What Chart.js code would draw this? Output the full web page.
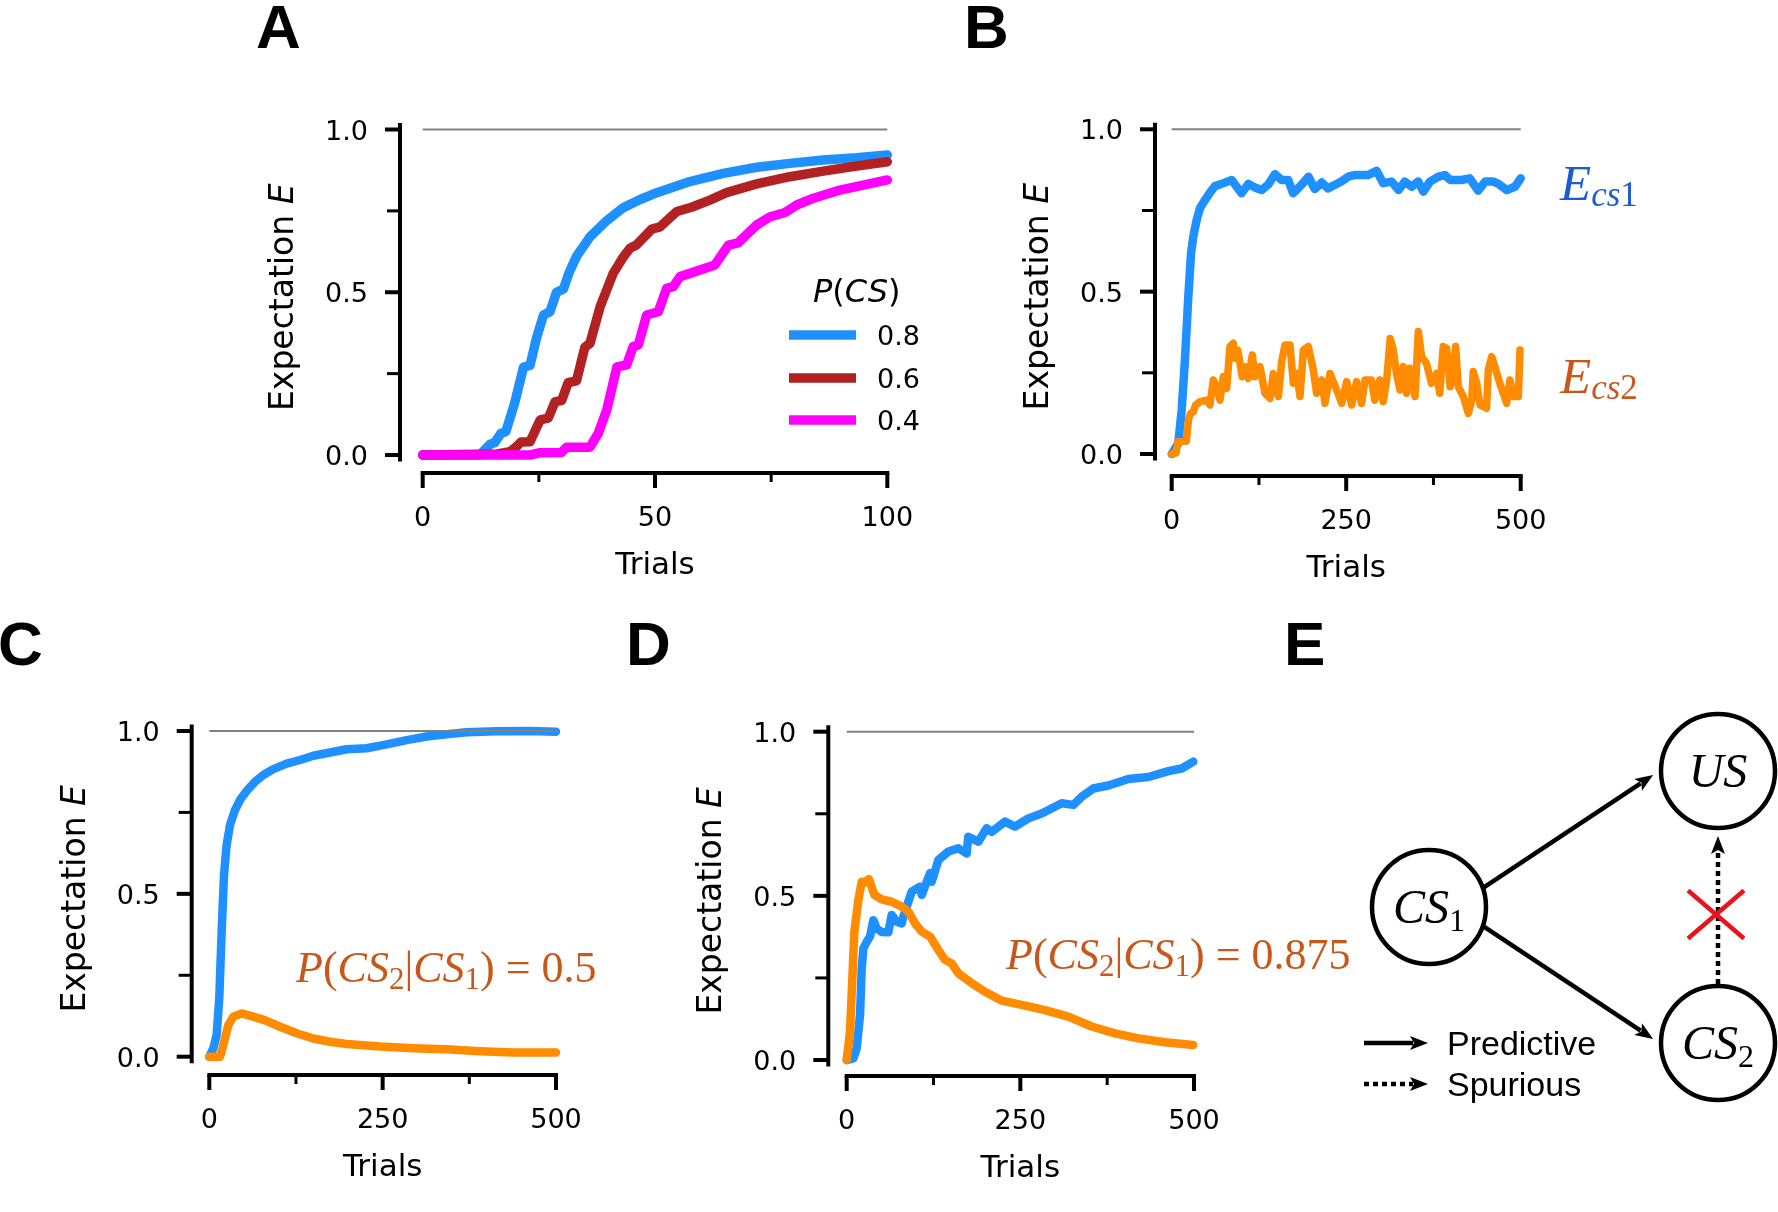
<!DOCTYPE html>
<html>
<head>
<meta charset="utf-8">
<script src="https://cdn.jsdelivr.net/npm/chart.js@4.4.1/dist/chart.umd.min.js"></script>
<style>
  html, body { margin: 0; padding: 0; background: #fff; }
  #page { position: relative; width: 1778px; height: 1212px; background: #fff; }
  #page canvas { position: absolute; left: 0; top: 0; }
</style>
</head>
<body>
<div id="page">
  <canvas id="panelA" width="1778" height="1212"></canvas>
  <canvas id="panelB" width="1778" height="1212"></canvas>
  <canvas id="panelC" width="1778" height="1212"></canvas>
  <canvas id="panelD" width="1778" height="1212"></canvas>
  <canvas id="panelE" width="1778" height="1212"></canvas>
</div>
<script>
// ---- tick values / labels ----
const yTickValues = [0, 0.5, 1.0];
const yTickLabels = ['0.0', '0.5', '1.0'];
const yMinorValues = [0.25, 0.75];
const xTicksA = [0, 50, 100];
const xMinorA = [25, 75];
const xTicksLong = [0, 250, 500];
const xMinorLong = [125, 375];

// ---- panel A: learning curves for P(CS) = 0.8 / 0.6 / 0.4, [trial, E] ----
const legendLabelsA = ['0.8', '0.6', '0.4'];
const curveA08 = [[0,0],[12.3,0],[14.5,0.033],[15.5,0.038],[16.8,0.066],[17.9,0.072],[19.8,0.16],[21.7,0.27],[23.1,0.275],
  [24.5,0.36],[26,0.43],[27.4,0.44],[28.8,0.5],[30.3,0.51],[31.5,0.56],[33.1,0.61],[36,0.67],[39.6,0.72],[43.2,0.76],
  [46.8,0.785],[50.4,0.806],[57.5,0.84],[64.7,0.865],[71.9,0.884],[79,0.896],[86.2,0.906],[93.4,0.913],[100,0.922]];
const curveA06 = [[0,0],[16,0.003],[18.8,0.01],[20.2,0.026],[21.2,0.04],[23.1,0.041],[25.3,0.108],[27,0.113],[28.5,0.164],
  [29.9,0.167],[31.3,0.222],[33.1,0.228],[34.9,0.331],[36,0.343],[38.2,0.456],[41,0.558],[43.2,0.609],[44.6,0.635],
  [46,0.645],[49.3,0.694],[51.1,0.701],[54.7,0.748],[58,0.762],[61.8,0.783],[65.4,0.806],[71.9,0.833],[79,0.855],
  [86.2,0.872],[93.4,0.888],[100,0.901]];
const curveA04 = [[0,0],[23.1,0],[25.3,0.007],[29.9,0.008],[31,0.024],[36,0.024],[37.8,0.067],[39.6,0.138],[41.8,0.271],
  [43.9,0.277],[45.3,0.333],[46.4,0.338],[48.2,0.43],[50.7,0.44],[52.5,0.512],[53.9,0.517],[55.4,0.548],[62.9,0.584],
  [65.8,0.645],[67.9,0.652],[71.9,0.707],[74.8,0.732],[78,0.745],[80.5,0.768],[84.1,0.789],[89.8,0.814],[100,0.845]];

// ---- panel B: E_cs1 / E_cs2 ----
const curveBcs1 = [[0,0],[9.5,0.033],[14.3,0.136],[19,0.29],[23.8,0.485],[27.7,0.618],[31,0.67],[35.7,0.72],[40.5,0.757],
  [47.7,0.782],[54.8,0.805],[62,0.825],[71.5,0.832],[86,0.844],[100,0.803],[110,0.832],[119,0.821],[129,0.813],[138,0.829],
  [148,0.862],[157.5,0.844],[167,0.844],[174,0.803],[186,0.829],[196,0.854],[205,0.816],[215,0.836],[224,0.818],[234,0.829],
  [243,0.839],[253,0.854],[262,0.859],[272,0.859],[281,0.859],[293.5,0.872],[303,0.834],[315,0.839],[325,0.813],[334,0.839],
  [344,0.823],[353,0.839],[360.5,0.808],[370,0.839],[382,0.854],[391.5,0.859],[399,0.844],[406,0.844],[415,0.844],
  [427,0.849],[439,0.811],[449,0.839],[461,0.839],[468,0.832],[480,0.813],[491.8,0.823],[500,0.849]];
const curveBcs2 = [[0,0],[6,0.003],[9,0.038],[21,0.04],[24,0.105],[27,0.125],[31,0.13],[34,0.15],[40.5,0.161],[50,0.166],
  [54.8,0.151],[59.6,0.228],[64.2,0.207],[69.2,0.166],[73.9,0.238],[78.7,0.202],[83.5,0.331],[88.3,0.341],[90.6,0.295],
  [94.5,0.32],[97.8,0.279],[101,0.238],[105,0.269],[109.8,0.233],[115.5,0.305],[119.3,0.238],[126.5,0.269],[133.6,0.187],
  [140.8,0.171],[145.6,0.248],[152.8,0.177],[157.5,0.284],[162.3,0.336],[169.4,0.336],[174.3,0.218],[179,0.248],
  [183.8,0.177],[188.6,0.32],[195.7,0.331],[202.9,0.259],[207.6,0.187],[214.8,0.228],[219.6,0.156],[226.7,0.248],
  [236.3,0.197],[243.5,0.156],[250.7,0.223],[257.8,0.151],[265,0.223],[272,0.156],[277,0.228],[286,0.228],[291,0.166],
  [298,0.228],[303,0.161],[308,0.228],[313,0.356],[317.5,0.32],[322,0.248],[327,0.197],[332,0.269],[336.6,0.187],
  [341.4,0.264],[348.6,0.177],[353.3,0.377],[358,0.3],[365,0.279],[372.2,0.218],[379.6,0.248],[384,0.187],[389,0.331],
  [394,0.325],[398.8,0.207],[403.4,0.248],[406.8,0.331],[410.6,0.207],[417.8,0.177],[425,0.125],[429.8,0.166],[432,0.254],
  [437,0.218],[441.7,0.151],[451,0.141],[453.6,0.259],[458.4,0.3],[463,0.269],[470,0.218],[479.9,0.156],[484.6,0.228],
  [489.5,0.177],[496.6,0.177],[499,0.32]];

// ---- panel C: P(CS2|CS1) = 0.5 ----
const curveCcs1 = [[0,0],[5.8,0.026],[10.6,0.067],[14.4,0.18],[17.8,0.384],[21.2,0.558],[25,0.65],[29.8,0.711],[37,0.757],
  [44.2,0.788],[53.8,0.816],[65.9,0.844],[77.9,0.865],[92.3,0.883],[111.5,0.9],[130.8,0.911],[150,0.924],[174,0.934],
  [198,0.944],[227,0.947],[255.8,0.959],[284.6,0.972],[313.5,0.983],[342.3,0.99],[371,0.996],[414.4,0.999],[462.5,1.0],
  [500,0.998]];
const curveCcs2 = [[0,0],[15.4,0],[20.2,0.036],[27.4,0.097],[34.6,0.123],[46.6,0.133],[63.5,0.123],[82.7,0.11],[102,0.092],
  [126,0.072],[150,0.056],[174,0.046],[198,0.039],[246,0.031],[294,0.026],[342,0.023],[390,0.017],[438.5,0.013],[500,0.013]];

// ---- panel D: P(CS2|CS1) = 0.875 ----
const curveDcs1 = [[0,0],[9.6,0.005],[14.4,0.036],[19.2,0.137],[21.6,0.279],[24,0.34],[28.8,0.36],[33.6,0.376],[38.4,0.426],
  [43.2,0.4],[50.4,0.39],[60,0.389],[64.8,0.442],[72,0.421],[79.2,0.416],[81.6,0.437],[93.6,0.513],[105.6,0.528],[108,0.503],
  [120,0.569],[122.4,0.543],[132,0.609],[146.4,0.635],[160.8,0.645],[172.7,0.629],[175,0.68],[189.5,0.665],[201.5,0.706],
  [208.7,0.695],[227.9,0.726],[242.3,0.711],[261.5,0.736],[280.7,0.751],[309.5,0.782],[326.3,0.777],[338.3,0.802],
  [355,0.827],[376.7,0.836],[405.5,0.856],[434.3,0.862],[463,0.88],[482.2,0.888],[499,0.909]];
const curveDcs2 = [[0,0],[4.8,0.086],[11,0.391],[16.8,0.487],[21.6,0.543],[26.4,0.541],[32.1,0.551],[39.8,0.503],[50.4,0.489],
  [64.8,0.482],[79.2,0.467],[88.8,0.452],[98.4,0.416],[108,0.391],[120,0.376],[132,0.335],[141.6,0.305],[151.2,0.294],
  [160.8,0.264],[180,0.234],[199,0.208],[223,0.181],[252,0.168],[285.5,0.152],[319,0.132],[352.7,0.102],[386.3,0.081],
  [420,0.066],[458,0.054],[499,0.046]];

// ---- panel E: diagram nodes and edges ----
const nodeNames = ['CS1', 'US', 'CS2'];
const nodeX = [0, 1, 1];
const nodeY = [0, 1, -1];
const edgeFrom = ['CS1', 'CS1', 'CS2'];
const edgeTo = ['US', 'CS2', 'US'];
const edgeKind = ['Predictive', 'Predictive', 'Spurious'];
const edgeLegend = ['Predictive', 'Spurious'];

// colours
const BLUE = '#1E90FF', BROWN = '#B22222', MAGENTA = '#FF00FF', ORANGE = '#FF8C00', GREY = '#808080';
const TXT_BLUE = '#1c5cd0', TXT_ORANGE = '#c8581a';

const SANS = '"DejaVu Sans"';
const SERIF = '"Liberation Serif"';

function toXY(pairs) {
  return pairs.map(p => ({ x: p[0], y: p[1] }));
}

function drawRuns(ctx, runs, x, y, align) {
  let w = 0;
  runs.forEach(r => { ctx.font = r.font; r.w = ctx.measureText(r.t).width; w += r.w; });
  let cx = align === 'center' ? x - w / 2 : (align === 'right' ? x - w : x);
  ctx.textAlign = 'left';
  ctx.textBaseline = 'alphabetic';
  runs.forEach(r => {
    ctx.font = r.font;
    if (r.color) ctx.fillStyle = r.color;
    ctx.fillText(r.t, cx, y + (r.dy || 0));
    cx += r.w;
  });
}

function seg(ctx, x0, y0, x1, y1) {
  ctx.beginPath(); ctx.moveTo(x0, y0); ctx.lineTo(x1, y1); ctx.stroke();
}

// math-like text "P(CS2|CS1) = v"
function condProbRuns(value, size, color) {
  const it = 'italic ' + size + 'px ' + SERIF, rm = size + 'px ' + SERIF, sub = Math.round(size * 0.7) + 'px ' + SERIF;
  const d = Math.round(size * 0.17);
  return [
    { t: 'P', font: it, color }, { t: '(', font: rm }, { t: 'CS', font: it }, { t: '2', font: sub, dy: d },
    { t: '|', font: rm }, { t: 'CS', font: it }, { t: '1', font: sub, dy: d }, { t: ')', font: rm },
    { t: ' = ' + value, font: rm }
  ];
}

function eRuns(idx, color) {
  return [
    { t: 'E', font: 'italic 51px ' + SERIF, color },
    { t: 'cs', font: 'italic 35px ' + SERIF, dy: 6 },
    { t: idx, font: '35px ' + SERIF, dy: 6 }
  ];
}

// draws matplotlib-like offset spines, ticks and labels from the chart scales
function axesPlugin(p) {
  return {
    id: 'axes' + p.letter,
    afterDraw(chart) {
      const ctx = chart.ctx, xs = chart.scales.x, ys = chart.scales.y;
      ctx.save();
      ctx.strokeStyle = '#000';
      ctx.fillStyle = '#000';
      ctx.lineCap = 'butt';

      // spines
      ctx.lineWidth = 4;
      seg(ctx, p.spineX, ys.getPixelForValue(ys.max), p.spineX, ys.getPixelForValue(ys.min));
      const xa = xs.getPixelForValue(p.xTicks[0]);
      const xb = xs.getPixelForValue(p.xTicks[p.xTicks.length - 1]);
      seg(ctx, xa - 2, p.spineY, xb + 2, p.spineY);

      // y ticks
      yTickValues.forEach((v, i) => {
        const py = ys.getPixelForValue(v);
        ctx.lineWidth = 4;
        seg(ctx, p.spineX - 15, py, p.spineX, py);
        ctx.font = '27px ' + SANS;
        ctx.textAlign = 'right';
        ctx.textBaseline = 'alphabetic';
        ctx.fillText(yTickLabels[i], p.spineX - 32, py + 10);
      });
      yMinorValues.forEach(v => {
        const py = ys.getPixelForValue(v);
        ctx.lineWidth = 3;
        seg(ctx, p.spineX - 13, py, p.spineX, py);
      });

      // x ticks
      p.xTicks.forEach(v => {
        const px = xs.getPixelForValue(v);
        ctx.lineWidth = 4;
        seg(ctx, px, p.spineY, px, p.spineY + 15);
        ctx.font = '27px ' + SANS;
        ctx.textAlign = 'center';
        ctx.textBaseline = 'alphabetic';
        ctx.fillText(String(v), px, p.spineY + 53);
      });
      p.xMinor.forEach(v => {
        const px = xs.getPixelForValue(v);
        ctx.lineWidth = 3;
        seg(ctx, px, p.spineY, px, p.spineY + 9);
      });

      // axis labels
      ctx.font = '31px ' + SANS;
      ctx.textAlign = 'center';
      ctx.fillText('Trials', (xa + xb) / 2, p.spineY + 101);

      ctx.save();
      ctx.translate(p.spineX - 107, (ys.top + ys.bottom) / 2 + 5);
      ctx.rotate(-Math.PI / 2);
      drawRuns(ctx, [
        { t: 'Expectation ', font: '33px ' + SANS },
        { t: 'E', font: 'italic 33px ' + SANS }
      ], 0, 0, 'center');
      ctx.restore();

      // panel letter
      ctx.fillStyle = '#000';
      ctx.font = 'bold 62px "Liberation Sans"';
      ctx.textAlign = 'left';
      ctx.fillText(p.letter, p.letterX, p.letterY);

      if (p.extra) p.extra(chart, ctx);
      ctx.restore();
    }
  };
}

function makePanel(p) {
  const span = p.y0px - p.y1px;
  const top = p.y1px - 0.02 * span;
  const bottom = p.y0px + 0.02 * span;
  const xMax = p.xTicks[p.xTicks.length - 1];
  const datasets = p.series.map(s => ({
    data: toXY(s.data),
    borderColor: s.color,
    borderWidth: s.width,
    pointRadius: 0,
    tension: 0,
    fill: false,
    clip: false,
    order: s.order,
    borderCapStyle: 'round',
    borderJoinStyle: 'round'
  }));
  // horizontal reference line at E = 1
  datasets.push({
    data: [{ x: 0, y: 1 }, { x: xMax, y: 1 }],
    borderColor: GREY, borderWidth: 2, pointRadius: 0, clip: false, order: 0
  });
  return new Chart(document.getElementById(p.id), {
    type: 'line',
    data: { datasets },
    options: {
      responsive: false,
      animation: false,
      devicePixelRatio: 1,
      events: [],
      layout: { autoPadding: false, padding: { left: p.x0px, right: 1778 - p.x1px, top: top, bottom: 1212 - bottom } },
      plugins: { legend: { display: false }, tooltip: { enabled: false } },
      scales: {
        x: { type: 'linear', display: false, min: 0, max: xMax },
        y: { type: 'linear', display: false, min: -0.02, max: 1.02 }
      }
    },
    plugins: [axesPlugin(p)]
  });
}

// Panel A
makePanel({
  id: 'panelA', letter: 'A', letterX: 256, letterY: 48,
  x0px: 422.7, x1px: 887.3, y1px: 129.5, y0px: 455,
  spineX: 400, spineY: 473,
  xTicks: xTicksA, xMinor: xMinorA,
  series: [
    { data: curveA08, color: BLUE, width: 9.5, order: 3 },
    { data: curveA06, color: BROWN, width: 9.5, order: 2 },
    { data: curveA04, color: MAGENTA, width: 9.5, order: 1 }
  ],
  extra(chart, ctx) {
    drawRuns(ctx, [
      { t: 'P', font: 'italic 32px ' + SANS, color: '#000' },
      { t: '(', font: '32px ' + SANS },
      { t: 'CS', font: 'italic 32px ' + SANS },
      { t: ')', font: '32px ' + SANS }
    ], 813, 302, 'left');
    const rows = [335, 378, 420];
    legendLabelsA.forEach((lab, i) => {
      ctx.strokeStyle = chart.data.datasets[i].borderColor;
      ctx.lineWidth = 9.5;
      seg(ctx, 789, rows[i], 856, rows[i]);
      ctx.fillStyle = '#000';
      ctx.font = '27px ' + SANS;
      ctx.textAlign = 'left';
      ctx.fillText(lab, 877, rows[i] + 10);
    });
  }
});

// Panel B
makePanel({
  id: 'panelB', letter: 'B', letterX: 964, letterY: 48,
  x0px: 1171.7, x1px: 1520.7, y1px: 129.3, y0px: 454,
  spineX: 1155, spineY: 476,
  xTicks: xTicksLong, xMinor: xMinorLong,
  series: [
    { data: curveBcs1, color: BLUE, width: 8.5, order: 2 },
    { data: curveBcs2, color: ORANGE, width: 7.5, order: 1 }
  ],
  extra(chart, ctx) {
    drawRuns(ctx, eRuns('1', TXT_BLUE), 1560, 200, 'left');
    drawRuns(ctx, eRuns('2', TXT_ORANGE), 1560, 393, 'left');
  }
});

// Panel C
makePanel({
  id: 'panelC', letter: 'C', letterX: -2, letterY: 665,
  x0px: 209.3, x1px: 556, y1px: 731, y0px: 1056.7,
  spineX: 191.7, spineY: 1075,
  xTicks: xTicksLong, xMinor: xMinorLong,
  series: [
    { data: curveCcs1, color: BLUE, width: 8.5, order: 2 },
    { data: curveCcs2, color: ORANGE, width: 8.5, order: 1 }
  ],
  extra(chart, ctx) {
    drawRuns(ctx, condProbRuns('0.5', 44, TXT_ORANGE), 296, 982, 'left');
  }
});

// Panel D
makePanel({
  id: 'panelD', letter: 'D', letterX: 626, letterY: 665,
  x0px: 846.7, x1px: 1194, y1px: 731.7, y0px: 1060,
  spineX: 828.3, spineY: 1076,
  xTicks: xTicksLong, xMinor: xMinorLong,
  series: [
    { data: curveDcs1, color: BLUE, width: 8.5, order: 2 },
    { data: curveDcs2, color: ORANGE, width: 8.5, order: 1 }
  ],
  extra(chart, ctx) {
    drawRuns(ctx, condProbRuns('0.875', 44, TXT_ORANGE), 1006, 969, 'left');
  }
});

// Panel E: causal diagram drawn on a scatter chart
const NODE_R = 57;

function arrow(ctx, x0, y0, x1, y1, dotted) {
  const a = Math.atan2(y1 - y0, x1 - x0), L = 18, H = 7;
  const ca = Math.cos(a), sa = Math.sin(a);
  const bx = x1 - L * ca, by = y1 - L * sa;
  ctx.strokeStyle = '#000';
  ctx.fillStyle = '#000';
  ctx.lineWidth = 4.5;
  ctx.lineCap = 'butt';
  ctx.setLineDash(dotted ? [5, 4] : []);
  seg(ctx, x0, y0, bx + 3 * ca, by + 3 * sa);
  ctx.setLineDash([]);
  ctx.beginPath();
  ctx.moveTo(x1, y1);
  ctx.lineTo(bx - H * sa, by + H * ca);
  ctx.lineTo(bx + 4 * ca, by + 4 * sa);
  ctx.lineTo(bx + H * sa, by - H * ca);
  ctx.closePath();
  ctx.fill();
}

function nodeLabelRuns(name) {
  const m = name.match(/^([A-Z]+)(\d*)$/);
  const runs = [{ t: m[1], font: 'italic 48px ' + SERIF, color: '#000' }];
  if (m[2]) runs.push({ t: m[2], font: '32px ' + SERIF, dy: 8 });
  return runs;
}

const diagramPlugin = {
  id: 'diagram',
  beforeDatasetsDraw(chart) {
    const ctx = chart.ctx, xs = chart.scales.x, ys = chart.scales.y;
    const pos = {};
    nodeNames.forEach((n, i) => { pos[n] = { x: xs.getPixelForValue(nodeX[i]), y: ys.getPixelForValue(nodeY[i]) }; });
    ctx.save();
    edgeFrom.forEach((f, i) => {
      const s = pos[f], t = pos[edgeTo[i]];
      const dotted = edgeKind[i] === 'Spurious';
      const th = Math.atan2(t.y - s.y, t.x - s.x);
      let x0, y0, x1, y1;
      if (Math.abs(t.x - s.x) < 1) {
        const dir = Math.sign(t.y - s.y);
        x0 = s.x; y0 = s.y + dir * (NODE_R + 2);
        x1 = t.x; y1 = t.y - dir * (NODE_R + 8);
        arrow(ctx, x0, y0, x1, y1, dotted);
        // red cross over the spurious link
        const cx = x0 - 2, cy = y0 + (y1 - y0) * 0.47;
        ctx.strokeStyle = '#e8141c';
        ctx.lineWidth = 4.5;
        seg(ctx, cx - 28, cy - 24, cx + 28, cy + 24);
        seg(ctx, cx - 28, cy + 24, cx + 28, cy - 24);
      } else {
        const a0 = 0.77 * th, a1 = 0.14 * th;
        x0 = s.x + NODE_R * Math.cos(a0); y0 = s.y + NODE_R * Math.sin(a0);
        x1 = t.x - (NODE_R + 8) * Math.cos(a1); y1 = t.y - (NODE_R + 8) * Math.sin(a1);
        arrow(ctx, x0, y0, x1, y1, dotted);
      }
    });
    // legend for edge kinds
    const rows = [1043, 1084];
    edgeLegend.forEach((lab, i) => {
      arrow(ctx, 1364, rows[i], 1428, rows[i], lab === 'Spurious');
      ctx.fillStyle = '#000';
      ctx.font = '34px "Liberation Sans"';
      ctx.textAlign = 'left';
      ctx.textBaseline = 'alphabetic';
      ctx.fillText(lab, 1447, rows[i] + 12);
    });
    ctx.restore();
  },
  afterDatasetsDraw(chart) {
    const ctx = chart.ctx, xs = chart.scales.x, ys = chart.scales.y;
    ctx.save();
    nodeNames.forEach((n, i) => {
      drawRuns(ctx, nodeLabelRuns(n), xs.getPixelForValue(nodeX[i]), ys.getPixelForValue(nodeY[i]) + 16, 'center');
    });
    ctx.fillStyle = '#000';
    ctx.font = 'bold 62px "Liberation Sans"';
    ctx.textAlign = 'left';
    ctx.fillText('E', 1284, 665);
    ctx.restore();
  }
};

new Chart(document.getElementById('panelE'), {
  type: 'scatter',
  data: {
    datasets: [{
      data: nodeNames.map((n, i) => ({ x: nodeX[i], y: nodeY[i] })),
      pointRadius: NODE_R,
      pointBorderWidth: 4.5,
      pointBorderColor: '#000',
      pointBackgroundColor: '#fff',
      pointStyle: 'circle',
      clip: false
    }]
  },
  options: {
    responsive: false,
    animation: false,
    devicePixelRatio: 1,
    events: [],
    layout: { autoPadding: false, padding: { left: 1284.5, right: 2.2, top: 730.2, bottom: 87.4 } },
    plugins: { legend: { display: false }, tooltip: { enabled: false } },
    scales: {
      x: { type: 'linear', display: false, min: -0.5, max: 1.2 },
      y: { type: 'linear', display: false, min: -1.6, max: 1.3 }
    }
  },
  plugins: [diagramPlugin]
});
</script>
</body>
</html>
